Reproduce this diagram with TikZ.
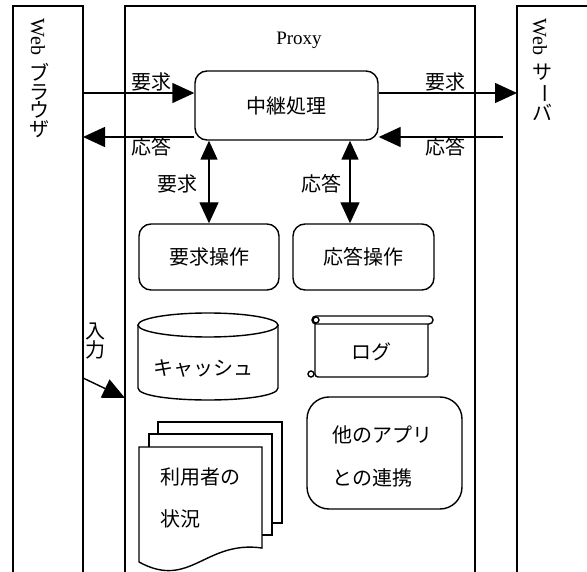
\documentclass[tikz,border=0pt]{standalone}
\usepackage{fontspec}
\setmainfont{Liberation Serif}
\newfontfamily\jpfont{Noto Sans CJK JP}
\usetikzlibrary{arrows.meta}
\begin{document}
\begin{tikzpicture}[x=1pt,y=-1pt,
  line width=1.4pt,
  jp/.style={font=\jpfont\fontsize{20}{20}\selectfont, inner sep=0pt},
  jpv/.style={font=\jpfont\fontsize{20}{18.5}\selectfont, inner sep=0pt, align=center},
  en/.style={font=\fontsize{20}{20}\selectfont, inner sep=0pt},
  box/.style={draw, rounded corners=12pt, inner sep=0pt, font=\jpfont\fontsize{20}{20}\selectfont},
  arr/.style={-{Triangle[length=22pt,width=20pt]}},
  darr/.style={{Triangle[length=19pt,width=17pt]}-{Triangle[length=21pt,width=19pt]}},
  page/.style={draw, fill=white},
]
\useasboundingbox (0,0) rectangle (587,572);

% columns
\draw (13,580) -- (13,6) -- (83,6) -- (83,580);
\draw (125,580) -- (125,6) -- (475,6) -- (475,580);
\draw (517,580) -- (517,6) -- (595,6);

% browser vertical label
\node[en, rotate=-90] (webB) at (38,37) {Web};
\node[jpv, anchor=north] (brw) at (40,63) {ブ\\ラ\\ウ\\ザ};

% server vertical label
\node[en, rotate=-90] (webS) at (540,37) {Web};
\node[jpv, anchor=north] (srv) at (542,63) {サ\\\rotatebox[origin=c]{-90}{ー}\\バ};

% proxy
\node[en, font=\fontsize{19}{19}\selectfont] (proxy) at (299,40) {Proxy};

% main boxes
\node[box, minimum width=183pt, minimum height=69pt] (relay) at (286.5,105.5) {中継処理};
\node[box, minimum width=140pt, minimum height=66pt] (reqop) at (209,257) {要求操作};
\node[box, minimum width=141pt, minimum height=66pt] (resop) at (363.5,257) {応答操作};

% horizontal arrows
\coordinate (b1) at (83,93);
\coordinate (b2) at (83,137);
\coordinate (s1) at (517,93);
\coordinate (s2) at (503,137);
\draw[arr] (b1) -- (b1 -| relay.west);
\draw[arr] (b2 -| relay.west) -- (b2);
\draw[arr] (s1 -| relay.east) -- (s1);
\draw[arr] (s2) -- (s2 -| relay.east);

\node[jp] (lReqL) at (151,82) {要求};
\node[jp] (lResL) at (151,147) {応答};
\node[jp] (lReqR) at (445,82) {要求};
\node[jp] (lResR) at (445,147) {応答};

% vertical arrows
\coordinate (v1) at (209,0);
\coordinate (v2) at (350,0);
\draw[darr] (relay.south -| v1) -- (reqop.north -| v1);
\draw[darr] (relay.south -| v2) -- (resop.north -| v2);
\node[jp] (lReqV) at (177,184) {要求};
\node[jp] (lResV) at (321,184) {応答};

% cache cylinder
\draw (138,325) -- (138,388) .. controls (138,404) and (278,404) .. (278,388) -- (278,325);
\draw (208,325) ellipse [x radius=70, y radius=12];
\node[jp] (cache) at (203,368) {キャッシュ};

% log scroll
\draw[rounded corners=3pt] (315,324) -- (315,377) -- (428,377) -- (428,324);
\draw[rounded corners=4pt] (312,316) rectangle (433,324);
\draw (316,320) circle [radius=3];
\draw (311,374) circle [radius=3];
\node[jp] (log) at (371,352) {ログ};

% other apps
\node[box, rounded corners=22pt, minimum width=155pt, minimum height=112pt] (other) at (384.5,453) {};
\node[jp, anchor=west] (oA) at (332,435) {他のアプリ};
\node[jp, anchor=west] (oB) at (332,478) {との連携};

% input arrow
\coordinate (in1) at (83,378);
\coordinate (in2) at (125,398);
\draw[arr] (in1) -- (in2);
\node[jpv] (inA) at (95,341) {入\\力};

% user state document stack
\draw[page] (158,422) rectangle (282,523);
\draw[page] (149,434) rectangle (272,535);
\draw[page] (139,562) -- (139,447) -- (262,447) -- (262,548)
   .. controls (205,540) and (190,590) .. (139,562);
\node[jp, anchor=west] (uA) at (160,477) {利用者の};
\node[jp, anchor=west] (uB) at (160,519) {状況};
\end{tikzpicture}
\end{document}
